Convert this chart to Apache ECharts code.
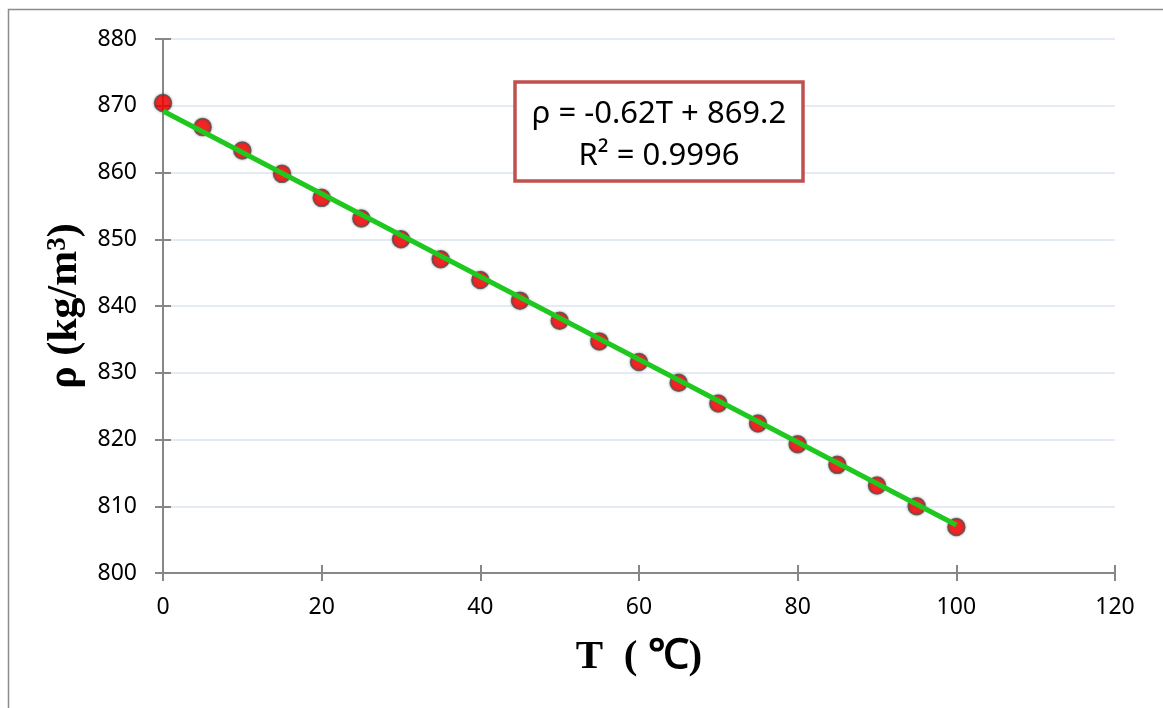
<!DOCTYPE html>
<html>
<head>
<meta charset="utf-8">
<script src="https://cdn.jsdelivr.net/npm/echarts@6/dist/echarts.min.js"></script>
<style>html,body{margin:0;padding:0;background:#fff}#c{width:1163px;height:708px}</style>
</head>
<body>
<div id="c"></div>
<script>
const temps = [0,5,10,15,20,25,30,35,40,45,50,55,60,65,70,75,80,85,90,95,100];
const densities = [870.4,866.8,863.3,859.8,856.2,853.1,850.0,847.0,843.9,840.8,837.8,834.7,831.6,828.5,825.4,822.4,819.3,816.2,813.1,810.0,806.9];
const trendT = [0,100];
const trendRho = [869.2,807.2];
const eqLine1 = 'ρ = -0.62T + 869.2';
const eqLine2 = 'R² = 0.9996';
const xTitle = 'T  ( ℃)';
const yTitle = 'ρ (kg/m{s|3})';

const chart = echarts.init(document.getElementById('c'));
const labelFont = {fontFamily:'Noto Sans', fontSize:23, color:'#000'};
const titleFont = {fontFamily:'Liberation Serif', fontWeight:'bold', color:'#000'};
chart.setOption({
  animation:false,
  backgroundColor:'#fff',
  grid:{left:163, right:48, top:39, bottom:135},
  xAxis:[{
    type:'value', min:0, max:120, interval:20,
    name:xTitle, nameLocation:'middle', nameGap:64,
    nameTextStyle:Object.assign({fontSize:41}, titleFont),
    axisLine:{show:true, lineStyle:{color:'#878787', width:2}},
    axisTick:{show:true, inside:false, length:8, lineStyle:{color:'#878787', width:2}},
    axisLabel:Object.assign({margin:23}, labelFont),
    splitLine:{show:false}
  },{
    type:'value', min:0, max:120, interval:20, position:'bottom',
    axisLine:{show:false},
    axisTick:{show:true, inside:true, length:8, lineStyle:{color:'#878787', width:2}},
    axisLabel:{show:false}, splitLine:{show:false}
  }],
  yAxis:[{
    type:'value', min:800, max:880, interval:10,
    name:yTitle, nameLocation:'middle', nameGap:67, nameRotate:90,
    nameTextStyle:Object.assign({fontSize:42,
      rich:{s:Object.assign({fontSize:27, verticalAlign:'top', padding:[0,0,12,0]}, titleFont)}
    }, titleFont),
    axisLine:{show:true, lineStyle:{color:'#878787', width:2}},
    axisTick:{show:true, inside:false, length:8, lineStyle:{color:'#878787', width:2}},
    axisLabel:Object.assign({margin:26}, labelFont),
    splitLine:{show:true, lineStyle:{color:'#dbe5f1', width:1.5}}
  },{
    type:'value', min:800, max:880, interval:10, position:'left',
    axisLine:{show:false},
    axisTick:{show:true, inside:true, length:8, lineStyle:{color:'#878787', width:2}},
    axisLabel:{show:false}, splitLine:{show:false}
  }],
  series:[{
    type:'scatter', xAxisIndex:0, yAxisIndex:0,
    data: temps.map((t,i)=>[t, densities[i]]),
    symbolSize:17,
    itemStyle:{color:'#ff0000', borderColor:'#505050', borderWidth:1.5, shadowBlur:3, shadowColor:'rgba(0,0,0,0.35)'},
    z:2
  },{
    type:'line', xAxisIndex:0, yAxisIndex:0,
    data: trendT.map((t,i)=>[t, trendRho[i]]),
    showSymbol:false, symbol:'none',
    lineStyle:{color:'#1ec81e', width:5},
    z:3
  }],
  graphic:[{
    type:'rect', silent:true, z:0,
    shape:{x:8.5, y:9.5, width:1200, height:720},
    style:{fill:null, stroke:'#8c8c8c', lineWidth:1.5}
  },{
    type:'rect', z:100, zlevel:1, shape:{x:515, y:82, width:288, height:99},
    style:{fill:'#fff', stroke:'#c0504d', lineWidth:3.5}
  },{
    type:'text', z:101, zlevel:1, x:659, y:114,
    style:{text:eqLine1, fontFamily:'Noto Sans', fontSize:31, fill:'#000', align:'center', verticalAlign:'middle'}
  },{
    type:'text', z:101, zlevel:1, x:659, y:156,
    style:{text:eqLine2, fontFamily:'Noto Sans', fontSize:31, fill:'#000', align:'center', verticalAlign:'middle'}
  }]
});
</script>
</body>
</html>
